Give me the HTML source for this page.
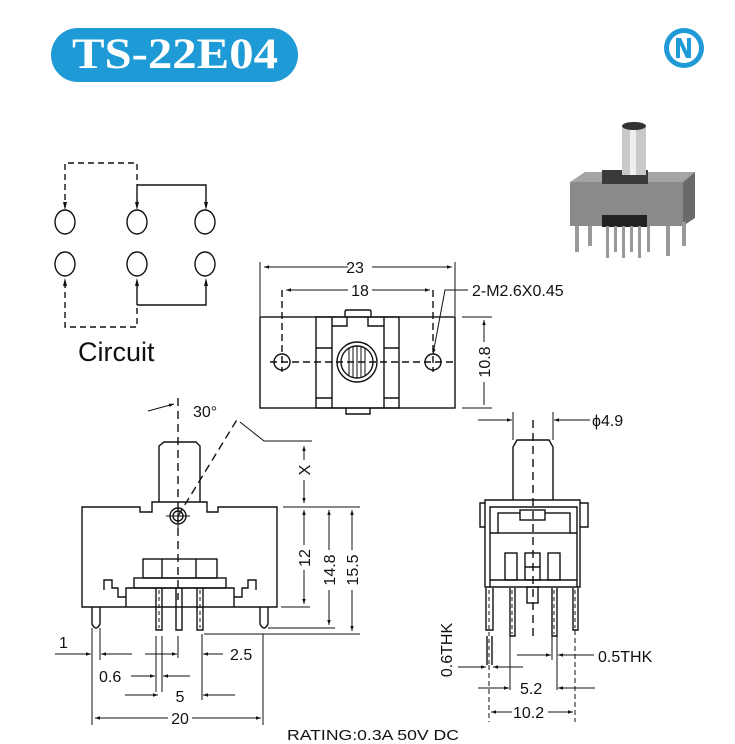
<!DOCTYPE html>
<html><head><meta charset="utf-8"><style>
html,body{margin:0;padding:0;background:#fff;}
svg{display:block;}
text{font-family:"Liberation Sans",sans-serif;fill:#111;}
</style></head><body>
<svg width="735" height="744" viewBox="0 0 735 744" xmlns="http://www.w3.org/2000/svg">
<defs>
<marker id="a" viewBox="0 0 10 10" refX="10" refY="5" markerWidth="7" markerHeight="5" orient="auto-start-reverse" markerUnits="userSpaceOnUse"><path d="M0,1.5 L10,5 L0,8.5 z" fill="#111"/></marker>
</defs>
<rect width="735" height="744" fill="#fff"/>
<!-- header -->
<rect x="51" y="28" width="247" height="54" rx="27" fill="#1e9ad6"/>
<text x="175" y="68" text-anchor="middle" style="font-family:'Liberation Serif',serif;font-weight:bold;font-size:43px;fill:#fff" textLength="206" lengthAdjust="spacingAndGlyphs">TS-22E04</text>
<circle cx="684" cy="48" r="20" fill="#1e9ad6"/>
<circle cx="684" cy="48" r="15" fill="#fff"/>
<path d="M676,38 h5 l6,13 v-13 h4 v20 h-5 l-6,-13 v13 h-4 z" fill="#1e9ad6"/>

<g fill="none" stroke="#111" stroke-width="1.4">
<!-- circuit -->
<path d="M65,200 V163 H137 V185" stroke-dasharray="6,4"/>
<path d="M137,185 H206 V205"/>
<path d="M137,185 V205"/>
<path d="M65,282 V327 H137 V305" stroke-dasharray="6,4"/>
<path d="M137,305 H206 V283"/>
<path d="M137,305 V283"/>
<ellipse cx="65" cy="222" rx="10" ry="12"/><ellipse cx="137" cy="222" rx="10" ry="12"/><ellipse cx="205" cy="222" rx="10" ry="12"/>
<ellipse cx="65" cy="264" rx="10" ry="12"/><ellipse cx="137" cy="264" rx="10" ry="12"/><ellipse cx="205" cy="264" rx="10" ry="12"/>
</g>
<g fill="#111">
<path d="M63,202 l2,8 l2,-8z"/><path d="M135,202 l2,8 l2,-8z"/><path d="M204,202 l2,8 l2,-8z"/>
<path d="M63,286 l2,-8 l2,8z"/><path d="M135,286 l2,-8 l2,8z"/><path d="M204,286 l2,-8 l2,8z"/>
</g>
<text x="78" y="361" style="font-size:27px">Circuit</text>

<!-- photo -->
<g>
<rect x="570" y="182" width="113" height="44" fill="#8a8a8a"/>
<path d="M570,182 L585,172 H695 L683,182 Z" fill="#a5a5a5"/>
<path d="M683,182 L695,172 V218 L683,226 Z" fill="#6a6a6a"/>
<rect x="602" y="170" width="46" height="14" fill="#3a3a3a"/>
<rect x="602" y="215" width="45" height="12" fill="#222"/>
<rect x="622" y="125" width="24" height="50" fill="#c9c9c9"/>
<rect x="630" y="125" width="6" height="50" fill="#eee"/>
<ellipse cx="634" cy="126" rx="12" ry="4" fill="#333"/>
<g fill="#999"><rect x="575" y="226" width="4" height="26"/><rect x="588" y="226" width="4" height="20"/><rect x="606" y="226" width="3" height="32"/><rect x="614" y="226" width="3" height="26"/><rect x="622" y="226" width="3" height="32"/><rect x="630" y="226" width="3" height="26"/><rect x="638" y="226" width="3" height="32"/><rect x="647" y="226" width="3" height="26"/><rect x="666" y="226" width="4" height="30"/><rect x="682" y="222" width="4" height="24"/></g>
</g>

<!-- top view -->
<g fill="none" stroke="#111" stroke-width="1.4">
<rect x="260" y="317" width="195" height="91"/>
<rect x="316" y="317" width="83" height="91"/>
<path d="M332,317 V408 M384,317 V408"/>
<path d="M345,317 V312 Q345,310 347,310 H369 Q371,310 371,312 V317"/>
<path d="M346,408 V414 H370 V408"/>
<path d="M332,326 H347 V317 M368,317 V326 H384"/>
<path d="M316,348 H332 M384,348 H399 M316,398 H332 M384,398 H399"/>
<circle cx="357" cy="362" r="20"/>
<circle cx="357" cy="362" r="16"/>
<path d="M349,348 V376 M353,347 V377 M357,346 V378 M361,347 V377 M365,348 V376" stroke-width="1"/>
<circle cx="282" cy="362" r="8"/>
<circle cx="433" cy="362" r="8"/>
<path d="M270,362 H455" stroke-dasharray="7,4"/>
<path d="M282,290 V372 M433,290 V372" stroke-dasharray="7,4"/>
<path d="M260,262 V316 M455,262 V316" stroke-width="1"/>
<path d="M264,267 H348 M372,267 H452" marker-start="url(#a)" marker-end="url(#a)" stroke-width="1"/>
<path d="M286,290 H348 M372,290 H430" marker-start="url(#a)" marker-end="url(#a)" stroke-width="1"/>
<path d="M468,290 H445 L433,354" marker-end="url(#a)" stroke-width="1"/>
<path d="M462,317 H492 M462,408 H492" stroke-width="1"/>
<path d="M484,320 V342 M484,382 V405" stroke-width="1" marker-start="url(#a)"/>
</g>
<text x="355" y="273" text-anchor="middle" style="font-size:16px">23</text>
<text x="360" y="296" text-anchor="middle" style="font-size:16px">18</text>
<text x="472" y="296" style="font-size:16px">2-M2.6X0.45</text>
<text transform="translate(490,362) rotate(-90)" text-anchor="middle" style="font-size:16px">10.8</text>

<!-- front view -->
<g fill="none" stroke="#111" stroke-width="1.4">
<path d="M82,607 V507 H140 V512 H152 V502 H207 V512 H218 V507 H277 V607 Z" fill="#fff"/>
<path d="M159,502 V446 L164,442 H196 L200,446 V502"/>
<circle cx="178" cy="516" r="8"/>
<circle cx="178" cy="516" r="5"/>
<path d="M166,516 H190 M178,504 V528" stroke-width="1"/>
<path d="M178,398 V600" stroke-dasharray="8,5"/>
<path d="M178,516 L238,418" stroke-dasharray="8,5"/>
<path d="M240,422 L264,441 H312" stroke-width="1"/>
<path d="M148,411 L174,404" marker-end="url(#a)" stroke-width="1"/>
<rect x="143" y="559" width="74" height="19"/>
<path d="M162,559 V578 M196,559 V578"/>
<rect x="134" y="578" width="92" height="10"/>
<path d="M126,607 V588 H234 V607"/>
<path d="M104,590 V580 H112 V588 H118 V597 H126 M256,590 V580 H248 V588 H242 V597 H234"/>
<path d="M92,607 V624 Q96,632 100,624 V607"/>
<path d="M260,607 V624 Q264,632 268,624 V607"/>
<path d="M156,588 V630 H162 V588 M176,588 V630 H182 V588 M197,588 V630 H203 V588"/>
<path d="M159,590 V628 M200,590 V628" stroke-dasharray="4,3" stroke-width="1"/>
<!-- right dims -->
<g stroke-width="1">
<path d="M283,507 H360 M281,607 H310 M268,628 H335 M204,634 H360"/>
<path d="M304,446 V460 M304,480 V503" marker-start="url(#a)" marker-end="url(#a)"/>
<path d="M304,510 V545 M304,570 V604" marker-start="url(#a)" marker-end="url(#a)"/>
<path d="M329,510 V550 M329,590 V625" marker-start="url(#a)" marker-end="url(#a)"/>
<path d="M352,510 V550 M352,590 V631" marker-start="url(#a)" marker-end="url(#a)"/>
<!-- bottom dims -->
<path d="M92,628 V725 M100,628 V660 M263,634 V725 M202,634 V700"/>
<path d="M55,654 H91" marker-end="url(#a)"/><path d="M132,654 H101" marker-end="url(#a)"/>
<path d="M156,636 V692 M162,636 V692 M178,636 V658"/>
<path d="M145,654 H177" marker-end="url(#a)"/>
<path d="M131,676 H155" marker-end="url(#a)"/><path d="M190,676 H163" marker-end="url(#a)"/>
<path d="M223,654 H203" marker-end="url(#a)"/>
<path d="M125,695 H158" marker-end="url(#a)"/><path d="M235,695 H203" marker-end="url(#a)"/>
<path d="M95,718 H168 M192,718 H261" marker-start="url(#a)" marker-end="url(#a)"/>
</g>
</g>
<text x="193" y="417" style="font-size:16px">30°</text>
<text transform="translate(310,470) rotate(-90)" text-anchor="middle" style="font-size:16px">X</text>
<text transform="translate(310,558) rotate(-90)" text-anchor="middle" style="font-size:16px">12</text>
<text transform="translate(335,570) rotate(-90)" text-anchor="middle" style="font-size:16px">14.8</text>
<text transform="translate(358,570) rotate(-90)" text-anchor="middle" style="font-size:16px">15.5</text>
<text x="59" y="648" style="font-size:16px">1</text>
<text x="99" y="682" style="font-size:16px">0.6</text>
<text x="230" y="660" style="font-size:16px">2.5</text>
<text x="180" y="702" text-anchor="middle" style="font-size:16px">5</text>
<text x="180" y="724" text-anchor="middle" style="font-size:16px">20</text>

<!-- side view -->
<g fill="none" stroke="#111" stroke-width="1.4">
<path d="M513,500 V447 L517,440 H549 L553,447 V500"/>
<path d="M485,587 V500 H580 V587 Z"/>
<path d="M485,503 H480 V527 H485 M580,503 H588 V527 H580"/>
<path d="M490,587 V507 H577 V587"/>
<rect x="498" y="513" width="72" height="20"/>
<rect x="520" y="510" width="25" height="10" fill="#fff"/>
<path d="M490,533 H498 M570,533 H577"/>
<rect x="505" y="553" width="12" height="27"/><rect x="525" y="553" width="15" height="27"/><rect x="548" y="553" width="12" height="27"/>
<path d="M490,580 H577 M525,567 H540"/>
<rect x="527" y="587" width="11" height="16"/>
<path d="M533,420 V640" stroke-dasharray="8,5"/>
<path d="M486,588 V630 H493 V588 M510,588 V636 H515 V588 M552,588 V636 H557 V588 M573,588 V630 H578 V588"/>
<path d="M487,636 V665 M492,636 V665"/>
<path d="M489,590 V665 M512,590 V634 M554,590 V634 M575,590 V628" stroke-dasharray="4,3" stroke-width="1"/>
<g stroke-width="1">
<path d="M513,412 V440 M553,412 V440"/>
<path d="M478,420 H512" marker-end="url(#a)"/><path d="M590,420 H554" marker-end="url(#a)"/>
<path d="M510,636 V690 M557,636 V690 M552,636 V660"/>
<path d="M517,655 H551" marker-end="url(#a)"/><path d="M594,655 H558" marker-end="url(#a)"/>
<path d="M458,667 H486" marker-end="url(#a)"/><path d="M523,667 H493" marker-end="url(#a)"/>
<path d="M489,665 V722 M575,630 V722" stroke-dasharray="5,3"/>
<path d="M478,688 H509" marker-end="url(#a)"/><path d="M595,688 H558" marker-end="url(#a)"/>
<path d="M491,712 H512 M548,712 H573" marker-start="url(#a)" marker-end="url(#a)"/>
</g>
</g>
<text x="592" y="426" style="font-size:16px">ϕ4.9</text>
<text x="598" y="662" style="font-size:16px">0.5THK</text>
<text transform="translate(452,650) rotate(-90)" text-anchor="middle" style="font-size:16px">0.6THK</text>
<text x="520" y="694" style="font-size:16px">5.2</text>
<text x="513" y="718" style="font-size:16px">10.2</text>

<text x="287" y="740" style="font-size:15px" textLength="172" lengthAdjust="spacingAndGlyphs">RATING:0.3A 50V DC</text>
</svg>
</body></html>
